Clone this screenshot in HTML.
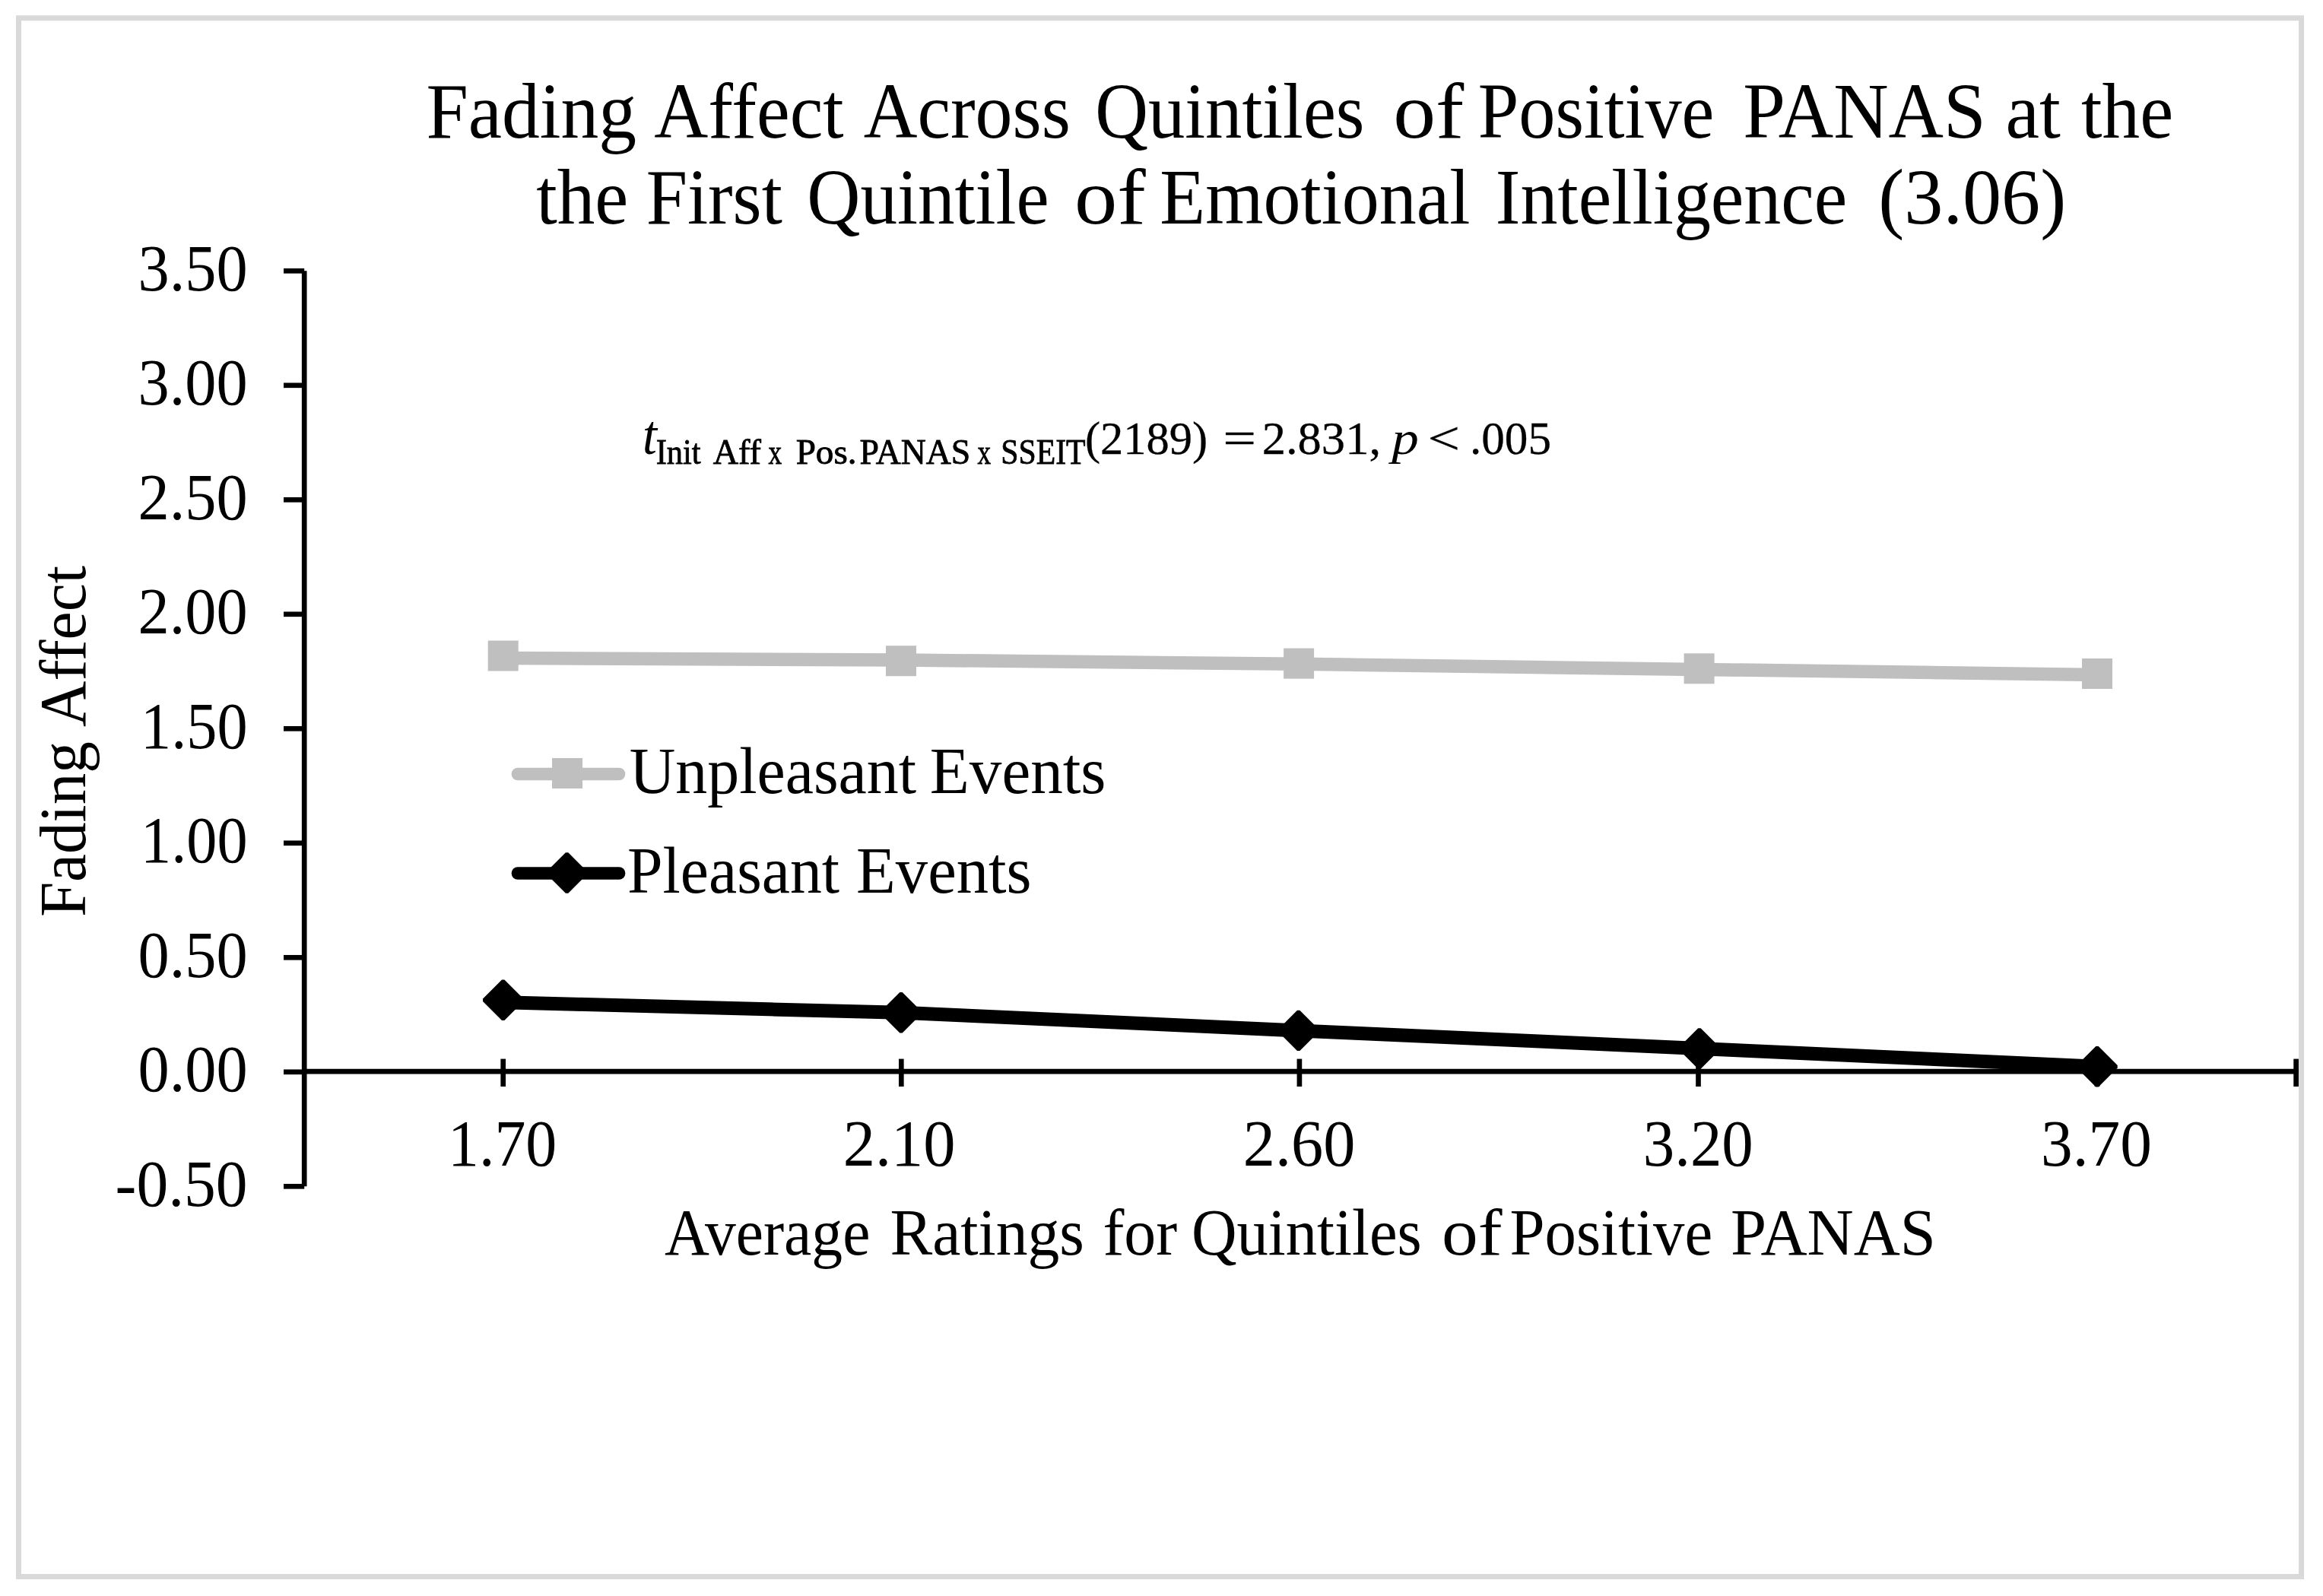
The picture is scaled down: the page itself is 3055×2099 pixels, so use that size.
<!DOCTYPE html>
<html lang="en">
<head>
<meta charset="utf-8">
<title>Fading Affect Across Quintiles of Positive PANAS</title>
<style>
html,body{margin:0;padding:0;background:#fff;}
body{width:3055px;height:2099px;overflow:hidden;}
svg{display:block;}
svg text{font-family:"Liberation Serif","Times New Roman",serif;fill:#000;white-space:pre;}
</style>
</head>
<body>
<svg width="3055" height="2099" viewBox="0 0 3055 2099">
<defs>
<filter id="soft" x="0" y="0" width="3055" height="2099" filterUnits="userSpaceOnUse"><feGaussianBlur stdDeviation="0.6"/></filter>
<filter id="soft2" x="0" y="0" width="3055" height="2099" filterUnits="userSpaceOnUse"><feGaussianBlur stdDeviation="0.6"/></filter>
</defs>
<rect width="3055" height="2099" fill="#fff"/>
<g filter="url(#soft2)">
<rect x="24.5" y="23.75" width="3002" height="2049.75" fill="#fff" stroke="#d9d9d9" stroke-width="7"/>
<g stroke="#000" stroke-width="6.67" fill="none">
<path d="M400.2 356.3 V1560.3"/>
<path d="M373 356.3 H400.2"/>
<path d="M373 506.8 H400.2"/>
<path d="M373 657.3 H400.2"/>
<path d="M373 807.8 H400.2"/>
<path d="M373 958.3 H400.2"/>
<path d="M373 1108.8 H400.2"/>
<path d="M373 1259.3 H400.2"/>
<path d="M373 1409.8 H400.2"/>
<path d="M373 1560.3 H400.2"/>
<path d="M400.2 1409.2 H3023"/>
<path d="M661.7 1392.6 V1429"/>
<path d="M1185.3 1392.6 V1429"/>
<path d="M1708.9 1392.6 V1429"/>
<path d="M2233.5 1392.6 V1429"/>
<path d="M2758 1392.6 V1429"/>
<path d="M3019.6 1392.6 V1429"/>
</g>
<g fill="#bfbfbf">
<path d="M661.7 865.6 L1185 868 L1708.1 873.3 L2234.6 880.4 L2758 887.5" fill="none" stroke="#bfbfbf" stroke-width="17.5" stroke-linejoin="round"/>
<rect x="641.7" y="842.5" width="40" height="40"/>
<rect x="1165" y="849.2" width="40" height="40"/>
<rect x="1688.1" y="852.6" width="40" height="40"/>
<rect x="2214.6" y="859.3" width="40" height="40"/>
<rect x="2738" y="866" width="40" height="40"/>
</g>
<g fill="#000">
<path d="M661.7 1318.3 L1185 1331.8 L1707.7 1355.4 L2234.9 1379 L2758 1402.8" fill="none" stroke="#000" stroke-width="18.0" stroke-linejoin="round"/>
<path d="M660 1288.6 L663.4 1288.6 L688.4 1313.6 L688.4 1317 L663.4 1342 L660 1342 L635 1317 L635 1313.6 z"/>
<path d="M1183.3 1305.1 L1186.7 1305.1 L1211.7 1330.1 L1211.7 1333.5 L1186.7 1358.5 L1183.3 1358.5 L1158.3 1333.5 L1158.3 1330.1 z"/>
<path d="M1706 1328.7 L1709.4 1328.7 L1734.4 1353.7 L1734.4 1357.1 L1709.4 1382.1 L1706 1382.1 L1681 1357.1 L1681 1353.7 z"/>
<path d="M2233.2 1352.3 L2236.6 1352.3 L2261.6 1377.3 L2261.6 1380.7 L2236.6 1405.7 L2233.2 1405.7 L2208.2 1380.7 L2208.2 1377.3 z"/>
<path d="M2756.3 1376.1 L2759.7 1376.1 L2784.7 1401.1 L2784.7 1404.5 L2759.7 1429.5 L2756.3 1429.5 L2731.3 1404.5 L2731.3 1401.1 z"/>
</g>
<path d="M681 1018 H814" stroke="#bfbfbf" stroke-width="16.7" stroke-linecap="round"/><rect x="726" y="997" width="40" height="40" fill="#bfbfbf"/>
<path d="M681 1148.5 H814" stroke="#000" stroke-width="16.7" stroke-linecap="round"/><path d="M743.9 1121.3 L747.3 1121.3 L772.3 1146.3 L772.3 1149.7 L747.3 1174.7 L743.9 1174.7 L718.9 1149.7 L718.9 1146.3 z"/>
</g>
<g filter="url(#soft)">
<text transform="translate(560.41 181) scale(0.9961 1.03)" font-size="100">Fading</text>
<text transform="translate(860.2 181) scale(0.9839 1.03)" font-size="100">Affect</text>
<text transform="translate(1135.7 181) scale(0.9799 1.03)" font-size="100">Across</text>
<text transform="translate(1440.13 181) scale(0.9665 1.03)" font-size="100">Quintiles</text>
<text transform="translate(1832.15 181) scale(1.1173 1.03)" font-size="100">of</text>
<text transform="translate(1943.77 181) scale(0.9638 1.03)" font-size="100">Positive</text>
<text transform="translate(2292.19 181) scale(1.0029 1.03)" font-size="100">PANAS</text>
<text transform="translate(2637.59 181) scale(1.0031 1.03)" font-size="100">at</text>
<text transform="translate(2737 181) scale(0.9917 1.03)" font-size="100">the</text>
<text transform="translate(705.3 294) scale(0.9909 1.03)" font-size="100">the</text>
<text transform="translate(849.65 294) scale(0.9768 1.03)" font-size="100">First</text>
<text transform="translate(1061.21 294) scale(0.9718 1.03)" font-size="100">Quintile</text>
<text transform="translate(1413.02 294) scale(1.1259 1.03)" font-size="100">of</text>
<text transform="translate(1525.34 294) scale(0.9801 1.03)" font-size="100">Emotional</text>
<text transform="translate(1966.86 294) scale(0.9801 1.03)" font-size="100">Intelligence</text>
<text transform="translate(2470.21 294) scale(1.0227 1.03)" font-size="100">(3.06)</text>
<text transform="translate(181.53 381.8) scale(0.9884 1.03)" font-size="83.3">3.50</text>
<text transform="translate(181.53 532.3) scale(0.9884 1.03)" font-size="83.3">3.00</text>
<text transform="translate(181.53 682.8) scale(0.9884 1.03)" font-size="83.3">2.50</text>
<text transform="translate(181.53 833.3) scale(0.9884 1.03)" font-size="83.3">2.00</text>
<text transform="translate(185.05 983.8) scale(0.9638 1.03)" font-size="83.3">1.50</text>
<text transform="translate(185.05 1134.3) scale(0.9638 1.03)" font-size="83.3">1.00</text>
<text transform="translate(181.53 1284.8) scale(0.9884 1.03)" font-size="83.3">0.50</text>
<text transform="translate(181.53 1435.3) scale(0.9884 1.03)" font-size="83.3">0.00</text>
<text transform="translate(151.59 1585.8) scale(1.0032 1.03)" font-size="83.3">-0.50</text>
<text transform="translate(589.02 1532.7) scale(0.9829 1.03)" font-size="83.3">1.70</text>
<text transform="translate(1108.66 1532.7) scale(1.0148 1.03)" font-size="83.3">2.10</text>
<text transform="translate(1634.86 1532.7) scale(1.0120 1.03)" font-size="83.3">2.60</text>
<text transform="translate(2160.71 1532.7) scale(0.9956 1.03)" font-size="83.3">3.20</text>
<text transform="translate(2684.1 1532.7) scale(1.0006 1.03)" font-size="83.3">3.70</text>
<text transform="translate(874 1650.3) scale(0.9801 1.03)" font-size="83.3">Average</text>
<text transform="translate(1170.39 1650.3) scale(1.0036 1.03)" font-size="83.3">Ratings</text>
<text transform="translate(1450.49 1650.3) scale(1.0054 1.03)" font-size="83.3">for</text>
<text transform="translate(1566.92 1650.3) scale(0.9917 1.03)" font-size="83.3">Quintiles</text>
<text transform="translate(1896.06 1650.3) scale(1.1463 1.03)" font-size="83.3">of</text>
<text transform="translate(1985.51 1650.3) scale(0.9933 1.03)" font-size="83.3">Positive</text>
<text transform="translate(2276.07 1650.3) scale(1.0164 1.03)" font-size="83.3">PANAS</text>
<text transform="translate(827.79 1042.5) scale(1.0070 1.03)" font-size="83.3">Unpleasant</text>
<text transform="translate(1222.86 1042.5) scale(1.0216 1.03)" font-size="83.3">Events</text>
<text transform="translate(824.99 1174) scale(1.0053 1.03)" font-size="83.3">Pleasant</text>
<text transform="translate(1126.07 1174) scale(1.0167 1.03)" font-size="83.3">Events</text>
<text transform="translate(845.02 597) scale(1.1375 1.22)" font-size="60" font-style="italic">t</text>
<text transform="translate(862.64 610.4) scale(0.9555 1.03)" font-size="44.5" stroke="#000" stroke-width="0.8">Init</text>
<text transform="translate(937.7 610.4) scale(1.0384 1.03)" font-size="44.5" stroke="#000" stroke-width="0.8">Aff</text>
<text transform="translate(1010.5 610.4) scale(0.7955 1.03)" font-size="44.5" stroke="#000" stroke-width="0.8">x</text>
<text transform="translate(1046.64 610.4) scale(1.0592 1.03)" font-size="44.5" stroke="#000" stroke-width="0.8">Pos.</text>
<text transform="translate(1130.57 610.4) scale(1.0277 1.03)" font-size="44.5" stroke="#000" stroke-width="0.8">PANAS</text>
<text transform="translate(1285.5 610.4) scale(0.7909 1.03)" font-size="44.5" stroke="#000" stroke-width="0.8">x</text>
<text transform="translate(1316.33 610.4) scale(0.9373 1.03)" font-size="44.5" stroke="#000" stroke-width="0.8">SSEIT</text>
<text transform="translate(1426.98 597) scale(1.0085 1.03)" font-size="60" stroke="#000" stroke-width="0.3">(2189)</text>
<text transform="translate(1608.31 597) scale(1.2931 1.03)" font-size="60" stroke="#000" stroke-width="0.3">=</text>
<text transform="translate(1659.72 597) scale(1.0421 1.03)" font-size="60" stroke="#000" stroke-width="0.3">2.831,</text>
<text transform="translate(1830.25 597) scale(1.1879 1.03)" font-size="60" font-style="italic">p</text>
<text transform="translate(1877.49 597) scale(1.2552 1.03)" font-size="60" stroke="#000" stroke-width="0.3">&lt;</text>
<text transform="translate(1932.94 597) scale(1.0210 1.03)" font-size="60" stroke="#000" stroke-width="0.3">.005</text>
<text transform="translate(111.7 1206.1) rotate(-90) scale(0.9977 1.03)" font-size="83.3">Fading</text>
<text transform="translate(111.7 955.9) rotate(-90) scale(1.0035 1.03)" font-size="83.3">Affect</text>
</g>
</svg>
</body>
</html>
